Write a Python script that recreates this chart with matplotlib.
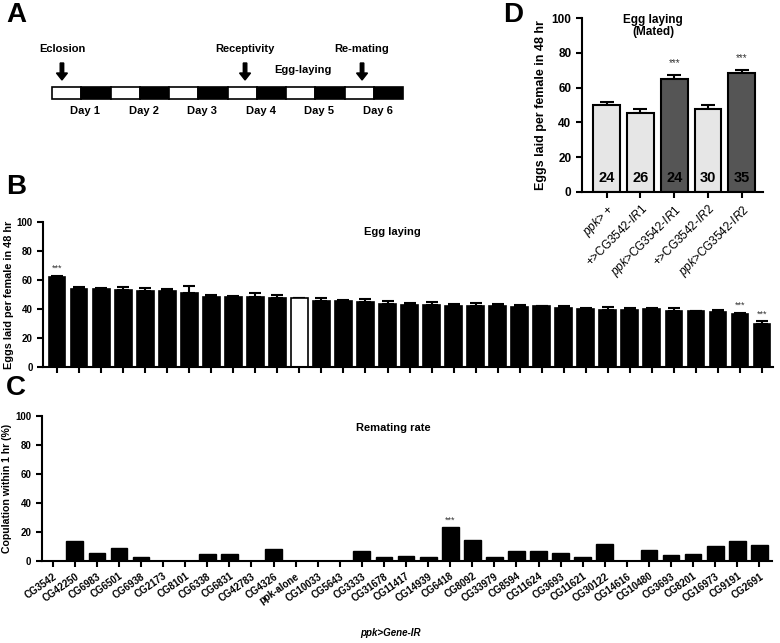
# -*- coding: utf-8 -*-
import numpy as np
import matplotlib
matplotlib.use('Agg')
import matplotlib.pyplot as plt
from matplotlib.patches import Rectangle

plt.rcParams['font.family'] = ['Liberation Sans', 'DejaVu Sans']
plt.rcParams['mathtext.fontset'] = 'custom'
plt.rcParams['mathtext.rm'] = 'Liberation Sans'
plt.rcParams['mathtext.it'] = 'Liberation Sans:italic'
plt.rcParams['mathtext.bf'] = 'Liberation Sans:bold'

W, H = 780, 643

### data: screen (panels B and C share the gene order)
genes = ['CG3542', 'CG42250', 'CG6983', 'CG6501', 'CG6938', 'CG2173', 'CG8101',
         'CG6338', 'CG6831', 'CG42783', 'CG4326', 'ppk-alone', 'CG10033',
         'CG5643', 'CG3333', 'CG31678', 'CG11417', 'CG14939', 'CG6418',
         'CG8092', 'CG33979', 'CG8594', 'CG11624', 'CG3693', 'CG11621',
         'CG30122', 'CG14616', 'CG10480', 'CG3693', 'CG8201', 'CG16973',
         'CG9191', 'CG2691']
egg_mean = [61.8, 54.0, 54.0, 53.3, 52.6, 52.2, 51.0, 48.5, 48.3, 48.0, 47.8,
            47.4, 45.7, 45.5, 44.8, 43.7, 43.0, 42.5, 41.8, 41.8, 41.8, 41.4,
            41.8, 40.7, 40.0, 39.5, 39.3, 39.8, 38.9, 38.6, 37.7, 36.6, 29.4]
egg_err = [1.2, 1.4, 0.7, 1.9, 1.9, 1.8, 5.0, 0.9, 0.7, 2.8, 1.6, 0.4, 2.1,
           0.9, 2.1, 1.6, 1.4, 2.1, 1.4, 2.1, 1.4, 1.6, 0.5, 1.3, 0.5, 1.9,
           1.6, 0.7, 1.8, 0.3, 1.6, 0.6, 2.1]
egg_sig = [0, 31, 32]
remating = [0, 13.8, 5.5, 9.0, 2.5, 0, 0, 4.4, 4.4, 0, 8.3, 0, 0, 0, 6.7,
            2.5, 3.2, 2.8, 23.0, 14.5, 2.5, 6.4, 6.7, 5.0, 2.5, 11.3, 0, 7.6,
            3.7, 4.6, 9.9, 13.3, 10.8]
remating_sig = [18]
control = 'ppk-alone'

### data: panel D
mated_labels = [r'$\it{ppk}$> +', r'+>CG3542-$\it{IR1}$',
                r'$\it{ppk}$>CG3542-$\it{IR1}$', r'+>CG3542-$\it{IR2}$',
                r'$\it{ppk}$>CG3542-$\it{IR2}$']
mated_mean = [50.0, 45.6, 65.0, 47.5, 68.5]
mated_err = [1.9, 1.9, 2.1, 2.7, 1.7]
mated_n = [24, 26, 24, 30, 35]
mated_dark = [False, False, True, False, True]
mated_sig = [2, 4]

### data: panel A timeline
days = ['Day 1', 'Day 2', 'Day 3', 'Day 4', 'Day 5', 'Day 6']
events = [('Eclosion', 0, 0.34), ('Receptivity', 3, 0.6), ('Re-mating', 5, 0.6)]


def fx(px):
    return px / W


def fy(py):
    return 1 - py / H


def style_axis(ax, fs):
    for s in ['top', 'right']:
        ax.spines[s].set_visible(False)
    for s in ['left', 'bottom']:
        ax.spines[s].set_linewidth(1.5)
    ax.tick_params(width=1.5, length=4, direction='out', labelsize=fs)
    for t in ax.get_yticklabels():
        t.set_fontweight('bold')


def panel_a(fig):
    ax = fig.add_axes([0, 0, 1, 1], zorder=-1)
    ax.set_xlim(0, W)
    ax.set_ylim(H, 0)
    ax.axis('off')
    x0, x1, y0, y1 = 52, 403, 87, 99
    seg = (x1 - x0) / (2 * len(days))
    for i in range(2 * len(days)):
        c = 'white' if i % 2 == 0 else 'black'
        ax.add_patch(Rectangle((x0 + i * seg, y0), seg, y1 - y0,
                               facecolor=c, edgecolor='black', lw=1.2))
    for i, d in enumerate(days):
        ax.text(x0 + (2 * i + 1) * seg + 4, 111, d, ha='center', va='center',
                fontsize=8, fontweight='bold')
    for name, iday, frac in events:
        xa = x0 + (2 * iday + frac) * seg
        ax.arrow(xa, 63, 0, 17, width=3.5, head_width=11, head_length=7,
                 length_includes_head=True, color='black')
        ax.text(xa, 49, name, ha='center', va='center', fontsize=8,
                fontweight='bold')
    ax.text(303, 70, 'Egg-laying', ha='center', va='center', fontsize=8,
            fontweight='bold')


def panel_b(fig):
    ax = fig.add_axes([fx(43), fy(367), fx(773) - fx(43), fy(222) - fy(367)])
    x = np.arange(len(genes))
    colors = ['white' if g == control else 'black' for g in genes]
    ax.bar(x, egg_mean, width=0.76, color=colors, edgecolor='black', lw=1.2,
           zorder=2)
    ax.errorbar(x, egg_mean, yerr=[np.zeros(len(x)), egg_err], fmt='none',
                ecolor='black', elinewidth=1.5, capsize=4, capthick=1.5,
                zorder=1)
    for i in egg_sig:
        ax.text(i, egg_mean[i] + egg_err[i] + 2, '***', ha='center',
                va='bottom', fontsize=6.5, color='#333333')
    ax.set_xlim(-0.64, len(genes) - 0.5)
    ax.set_ylim(0, 100)
    ax.set_yticks(np.arange(0, 101, 20))
    ax.set_xticks(x)
    ax.set_xticklabels([])
    style_axis(ax, 7)
    ax.set_ylabel('Eggs laid per female in 48 hr', fontsize=7.8,
                  fontweight='bold', labelpad=2)
    fig.text(fx(392), fy(232), 'Egg laying', ha='center', va='center',
             fontsize=8, fontweight='bold')


def panel_c(fig):
    ax = fig.add_axes([fx(41.7), fy(560.7), fx(771.7) - fx(41.7),
                       fy(415.7) - fy(560.7)])
    x = np.arange(len(genes))
    ax.bar(x, remating, width=0.76, color='black', edgecolor='black', lw=1)
    for i in remating_sig:
        ax.text(i, remating[i] + 1.5, '***', ha='center', va='bottom',
                fontsize=6.5, color='#333333')
    ax.set_xlim(-0.5, len(genes) - 0.44)
    ax.set_ylim(0, 100)
    ax.set_yticks(np.arange(0, 101, 20))
    ax.set_xticks(x)
    ax.set_xticklabels(genes, rotation=35, ha='right', rotation_mode='anchor',
                       fontsize=7, fontweight='bold')
    style_axis(ax, 7)
    ax.set_ylabel('Copulation within 1 hr (%)', fontsize=7.6,
                  fontweight='bold', labelpad=2)
    fig.text(fx(393), fy(428), 'Remating rate', ha='center', va='center',
             fontsize=8, fontweight='bold')
    fig.text(fx(390), fy(633), 'ppk>Gene-IR', ha='center', va='center',
             fontsize=7, fontweight='bold', style='italic')


def panel_d(fig):
    ax = fig.add_axes([fx(581.7), fy(191.7), fx(763) - fx(581.7),
                       fy(18.3) - fy(191.7)])
    x = np.arange(len(mated_mean))
    colors = ['#555555' if d else '#e6e6e6' for d in mated_dark]
    ax.bar(x, mated_mean, width=0.79, color=colors, edgecolor='black', lw=1.5,
           zorder=2)
    ax.errorbar(x, mated_mean, yerr=[np.zeros(len(x)), mated_err], fmt='none',
                ecolor='black', elinewidth=1.5, capsize=5, capthick=1.5,
                zorder=1)
    for i, n in enumerate(mated_n):
        ax.text(i, 8, str(n), ha='center', va='center', fontsize=10.5,
                fontweight='bold', zorder=3)
    for i in mated_sig:
        ax.text(i, mated_mean[i] + mated_err[i] + 4, '***', ha='center',
                va='bottom', fontsize=7, color='#333333')
    ax.set_xlim(-0.74, len(x) - 0.37)
    ax.set_ylim(0, 100)
    ax.set_yticks(np.arange(0, 101, 20))
    ax.set_xticks(x)
    ax.set_xticklabels(mated_labels, rotation=45, ha='right',
                       rotation_mode='anchor', fontsize=10.2)
    style_axis(ax, 8.5)
    ax.set_ylabel('Eggs laid per female in 48 hr', fontsize=9,
                  fontweight='bold', labelpad=3)
    fig.text(fx(653), fy(20), 'Egg laying', ha='center', va='center',
             fontsize=8.5, fontweight='bold')
    fig.text(fx(653), fy(32), '(Mated)', ha='center', va='center',
             fontsize=8.5, fontweight='bold')


def main():
    fig = plt.figure(figsize=(W / 100, H / 100), dpi=100)
    panel_a(fig)
    panel_b(fig)
    panel_c(fig)
    panel_d(fig)
    for letter, px, py in [('A', 6, 15), ('B', 6, 187), ('C', 6, 388),
                           ('D', 503, 15)]:
        fig.text(fx(px), fy(py), letter, ha='left', va='center', fontsize=20,
                 fontweight='bold')
    fig.savefig('out.png', dpi=100)


if __name__ == '__main__':
    main()
